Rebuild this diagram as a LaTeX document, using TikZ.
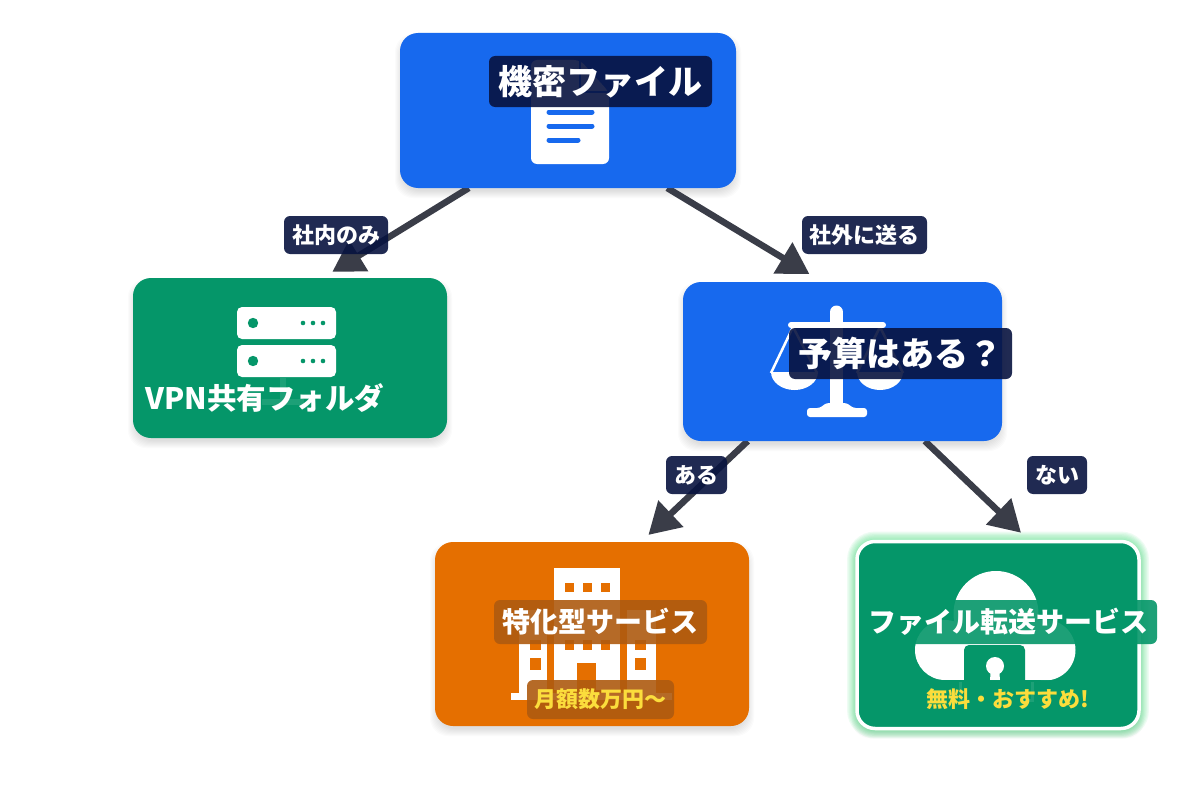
\documentclass[tikz,border=0pt]{standalone}
\usepackage{fontspec}
\setmainfont{Noto Sans CJK JP}
\usepackage{xcolor}
\usetikzlibrary{arrows.meta,calc,backgrounds}

\definecolor{bluebox}{HTML}{1769EE}
\definecolor{greenbox}{HTML}{059669}
\definecolor{orangebox}{HTML}{E56F00}
\definecolor{navytag}{HTML}{081340}
\definecolor{browntag}{HTML}{AE5A10}
\definecolor{arrowgray}{HTML}{3A3D48}
\definecolor{yellowtext}{HTML}{FBDD3C}
\definecolor{glowgreen}{HTML}{4ADE80}

\tikzset{
  box/.style={rectangle, rounded corners=18pt, outer sep=0pt, inner sep=0pt},
  tag/.style={rectangle, rounded corners=6pt, outer sep=0pt, inner sep=0pt, fill=navytag, fill opacity=.9, text opacity=1, text=white},
  bigtext/.style={font=\bfseries\fontsize{34}{38}\selectfont},
  midtext/.style={font=\bfseries\fontsize{28}{32}\selectfont},
  smalltext/.style={font=\bfseries\fontsize{22}{26}\selectfont},
  flow/.style={line width=6.5pt, color=arrowgray, -{Triangle[length=31pt,width=35pt]}},
}

\begin{document}
\begin{tikzpicture}[x=1pt,y=-1pt]
\path[use as bounding box] (0,0) rectangle (1200,800);

% Boxes
\node[box, fill=bluebox, minimum width=336pt, minimum height=155pt] (root) at (568,110.5) {};
\node[box, fill=greenbox, minimum width=314pt, minimum height=160pt] (vpn) at (290,358) {};
\node[box, fill=bluebox, minimum width=319pt, minimum height=159pt] (budget) at (842.5,361.5) {};
\node[box, fill=orangebox, minimum width=314pt, minimum height=184pt] (special) at (592,634) {};
\node[box, fill=greenbox, draw=white, line width=3.5pt, minimum width=282pt, minimum height=187pt] (transfer) at (998,635) {};

\begin{scope}[on background layer]
% Page
\fill[white] (0,0) rectangle (1200,800);
% Soft shadows
\foreach \n in {root,vpn,budget,special,transfer}
  \foreach \g in {1,...,8}
    \fill[black, opacity=.016, rounded corners=18pt] ($(\n.north west)+(3-\g,9-\g)$) rectangle ($(\n.south east)+(\g-3,\g+2)$);
% Glow
\foreach \g in {1,...,7}
  \draw[glowgreen, opacity=.09, line width=\g*2.4pt+3pt, rounded corners=18pt] (transfer.north west) rectangle (transfer.south east);
% Arrows
\draw[flow, shorten >=11.7pt] (root.218.9) -- (vpn.68.2);
\draw[flow, shorten >=15.5pt] (root.322.5) -- (budget.104.9);
\draw[flow, shorten >=10.3pt] (budget.220.4) -- (special.62.2);
\draw[flow, shorten >=12.7pt] (budget.316.1) -- (transfer.71.7);
\end{scope}

% Document icon
\fill[white, rounded corners=6pt] (531,60) -- (580,60) -- (609,92) -- (609,164) -- (531,164) -- cycle;
\draw[bluebox, line width=1.5pt] (580,60) -- (580,92) -- (609,92);
\draw[bluebox, line width=5pt, line cap=round] (549,112) -- (592,112);
\draw[bluebox, line width=5pt, line cap=round] (549,126) -- (592,126);
\draw[bluebox, line width=5pt, line cap=round] (549,140) -- (578,140);

% Server icon
\foreach \y in {307,345} {
  \fill[white, rounded corners=5pt] (237,\y) rectangle (336,\y+32);
  \fill[greenbox] (253,\y+16) circle (5.2pt);
  \foreach \x in {303,313,323}
    \fill[greenbox] (\x,\y+16) circle (2.3pt);
}
\fill[white] (280,378) rectangle (286,402);
\fill[white] (262,399) rectangle (304,405);

% Scales icon
\draw[white, line width=13pt, line cap=round] (836.5,312) -- (836.5,410);
\draw[white, line width=6pt, line cap=round] (791,325) -- (883,325);
\draw[white, line width=2.5pt] (771,373) -- (793,327) -- (817,373);
\draw[white, line width=2.5pt] (857,373) -- (880,327) -- (903,373);
\fill[white] (771,372) arc[start angle=180, end angle=360, x radius=23.5pt, y radius=18pt] -- cycle;
\fill[white] (857,372) arc[start angle=180, end angle=360, x radius=23pt, y radius=18pt] -- cycle;
\fill[white, rounded corners=3pt] (807,417) -- (807,408) -- (820,408) -- (826,403) -- (847,403) -- (853,408) -- (867,408) -- (867,417) -- cycle;

% Building icon
\fill[white] (554,568) rectangle (620,690);
\fill[white] (519,610) rectangle (547,693);
\fill[white] (627,610) rectangle (656,693);
\fill[white] (511,693) rectangle (672,700);
\foreach \x in {565,583,601} {
  \fill[orangebox] (\x,583) rectangle (\x+9,592);
  \fill[orangebox] (\x,640) rectangle (\x+9,650);
}
\foreach \x in {530,635} {
  \fill[orangebox] (\x,640) rectangle (\x+11,650);
  \fill[orangebox] (\x,658) rectangle (\x+11,670);
}
\fill[orangebox] (577,663) rectangle (596,693);

% Cloud and lock icon
\fill[white] (996,613.5) circle (42.5pt);
\fill[white] (945,650) circle (30pt);
\fill[white] (1045,650) circle (30.5pt);
\fill[white] (945,640) rectangle (1045,680);
\draw[white, line width=3pt] (960,682) -- (960,700) -- (1032,700) -- (1032,682);
\fill[greenbox, rounded corners=5pt] (964,705) -- (964,645) -- (1025,645) -- (1025,705) -- cycle;
\draw[white, line width=4pt] (978,645) -- (978,625) -- (1012,625) -- (1012,645);
\fill[white] (995,666) circle (9pt);
\fill[white] (991,668) -- (999,668) -- (1000,680) -- (990,680) -- cycle;

% Big labels
\node[tag, bigtext, minimum width=223pt, minimum height=51pt] (rootlabel) at (600.5,81.5) {機密ファイル};
\node[tag, bigtext, minimum width=223pt, minimum height=51pt] (budgetlabel) at (900.5,353.5) {予算はある？};
\node[tag, font=\bfseries\fontsize{29.5}{34}\selectfont, fill=greenbox, minimum width=250pt, minimum height=40pt] (vpnlabel) at (265,398) {VPN共有フォルダ};
\node[tag, midtext, fill=browntag, minimum width=213pt, minimum height=44pt] (speciallabel) at (600.5,622) {特化型サービス};
\node[tag, midtext, fill=greenbox, minimum width=297pt, minimum height=44pt] (transferlabel) at (1008.5,622) {ファイル転送サービス};

% Price labels
\node[tag, smalltext, fill=browntag, text=yellowtext, minimum width=147pt, minimum height=39pt] (pricelabel) at (600.5,699.5) {月額数万円〜};
\node[tag, smalltext, fill=greenbox, text=yellowtext, minimum width=185pt, minimum height=39pt] (freelabel) at (1008,699.5) {無料・おすすめ!};

% Branch labels
\node[tag, smalltext, minimum width=104pt, minimum height=38pt] (insidelabel) at (336,235) {社内のみ};
\node[tag, smalltext, minimum width=125pt, minimum height=38pt] (outsidelabel) at (864.5,235) {社外に送る};
\node[tag, smalltext, minimum width=61pt, minimum height=38pt] (yeslabel) at (696.5,475) {ある};
\node[tag, smalltext, minimum width=60pt, minimum height=38pt] (nolabel) at (1057,475) {ない};
\end{tikzpicture}
\end{document}
